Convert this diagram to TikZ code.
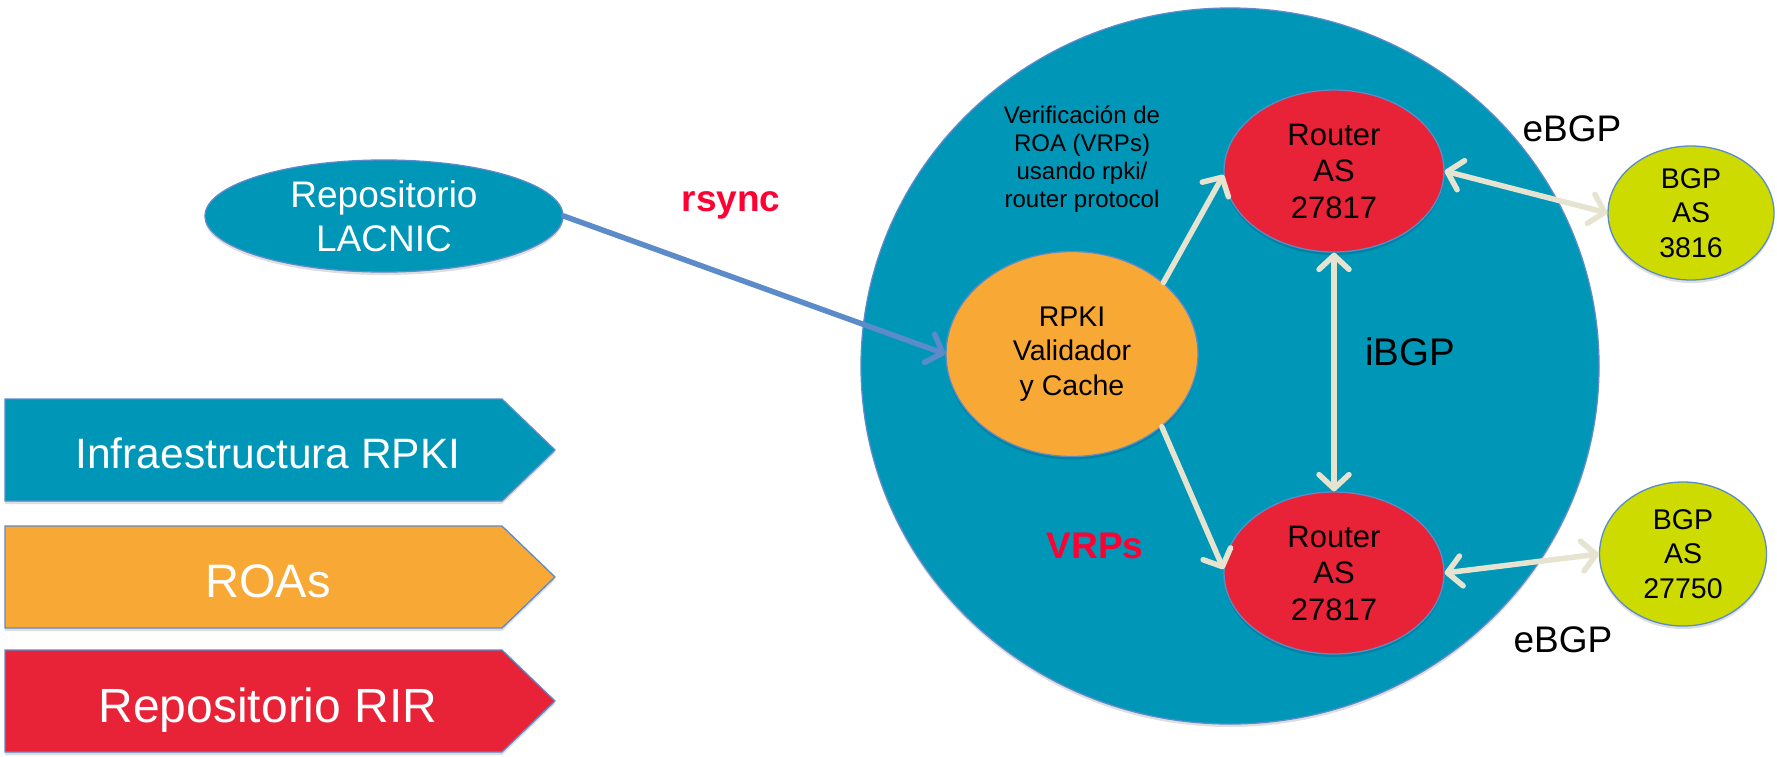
\documentclass[tikz,border=0pt]{standalone}
\usepackage{fontspec}
\setmainfont{Liberation Sans}
\usetikzlibrary{shapes.geometric,arrows.meta,shadows}
\definecolor{cTeal}{HTML}{0096B8}
\definecolor{cOrange}{HTML}{F8A835}
\definecolor{cRed}{HTML}{E82337}
\definecolor{cLime}{HTML}{CEDB00}
\definecolor{cBorder}{HTML}{5B8BC9}
\definecolor{cCream}{HTML}{E6E3D1}
\definecolor{cLabel}{HTML}{FF0033}
\definecolor{cBlue}{HTML}{5B8BC9}
\begin{document}
\begin{tikzpicture}[x=1pt,y=-1pt]
\useasboundingbox (0,0) rectangle (1777,756);
\tikzset{
  ell/.style={ellipse, draw=cBorder, line width=1.3pt, inner sep=0pt, align=center},
  shad/.style={drop shadow={shadow xshift=0pt,shadow yshift=-3pt,opacity=0.13,fill=black}},
  bannerbox/.style={draw=cBorder, line width=1.3pt, shad},
  bannertext/.style={text=white, inner sep=0pt, anchor=base},
  vtip/.tip={Straight Barb[length=14pt,width=30pt,round]},
  creamarrow/.style={draw=cCream, line width=5.5pt, line cap=round},
  bluearrow/.style={draw=cBlue, line width=5.5pt, line cap=round, -vtip},
  lbl/.style={inner sep=0pt, anchor=base, font=\fontsize{37}{44}\selectfont},
  redlbl/.style={lbl, text=cLabel, font=\bfseries\fontsize{37}{44}\selectfont}
}
% big AS circle
\node[ell, shad, fill=cTeal, minimum width=738pt, minimum height=716pt] (asys) at (1230,366) {};

% legend banners
\path[bannerbox, fill=cTeal] (5,399) -- (502,399) -- (555,450) -- (502,501) -- (5,501) -- cycle;
\node[bannertext, font=\fontsize{42.5}{50}\selectfont] (infra) at (268,468) {Infraestructura RPKI};
\path[bannerbox, fill=cOrange] (5,526) -- (502,526) -- (555,577) -- (502,628) -- (5,628) -- cycle;
\node[bannertext, font=\fontsize{47}{55}\selectfont] (roas) at (268,597) {ROAs};
\path[bannerbox, fill=cRed] (5,650) -- (502,650) -- (555,701) -- (502,752) -- (5,752) -- cycle;
\node[bannertext, font=\fontsize{48}{56}\selectfont] (rir) at (268,722) {Repositorio RIR};

% ellipses
\node[ell, shad, fill=cTeal, text=white, minimum width=358pt, minimum height=112pt,
      font=\fontsize{37}{44}\selectfont] (lacnic) at (384,216) {Repositorio\\LACNIC};
\node[ell, shad, fill=cOrange, minimum width=252pt, minimum height=205pt,
      font=\fontsize{28.5}{34.5}\selectfont] (rpki) at (1072,354) {RPKI\\Validador\\y Cache};
\node[ell, shad, fill=cRed, minimum width=220pt, minimum height=162pt,
      font=\fontsize{31}{36.5}\selectfont] (rtop) at (1334,171) {Router\\AS\\27817};
\node[ell, shad, fill=cRed, minimum width=220pt, minimum height=162pt,
      font=\fontsize{31}{36.5}\selectfont] (rbot) at (1334,573) {Router\\AS\\27817};
\node[ell, shad, fill=cLime, minimum width=166pt, minimum height=134pt,
      font=\fontsize{28.5}{34.5}\selectfont] (bgpa) at (1691,213) {BGP\\AS\\3816};
\node[ell, shad, fill=cLime, minimum width=167pt, minimum height=144pt,
      font=\fontsize{28.5}{34.5}\selectfont] (bgpb) at (1683,554) {BGP\\AS\\27750};

% labels
\node[inner sep=0pt, align=center, font=\fontsize{24}{28}\selectfont] (verif) at (1082,159)
  {Verificación de\\ROA (VRPs)\\usando rpki/\\router protocol};
\node[redlbl] (rsync) at (731,211) {rsync};
\node[redlbl] (vrps) at (1095,558) {VRPs};
\node[lbl, font=\fontsize{38.5}{46}\selectfont] (ibgp) at (1410,365) {iBGP};
\node[lbl] (ebgpa) at (1572,141) {eBGP};
\node[lbl] (ebgpb) at (1563,652) {eBGP};

% connectors
\draw[bluearrow] (lacnic.east) -- (rpki.west);
\draw[creamarrow, -vtip] (rpki.38) -- (rtop.182);
\draw[creamarrow, -vtip] (rpki.-39) -- (rbot.178);
\draw[creamarrow, vtip-vtip] (rtop.south) -- (rbot.north);
\draw[creamarrow, vtip-vtip] (rtop.east) -- (bgpa.west);
\draw[creamarrow, vtip-vtip] (rbot.east) -- (bgpb.west);
\end{tikzpicture}
\end{document}
